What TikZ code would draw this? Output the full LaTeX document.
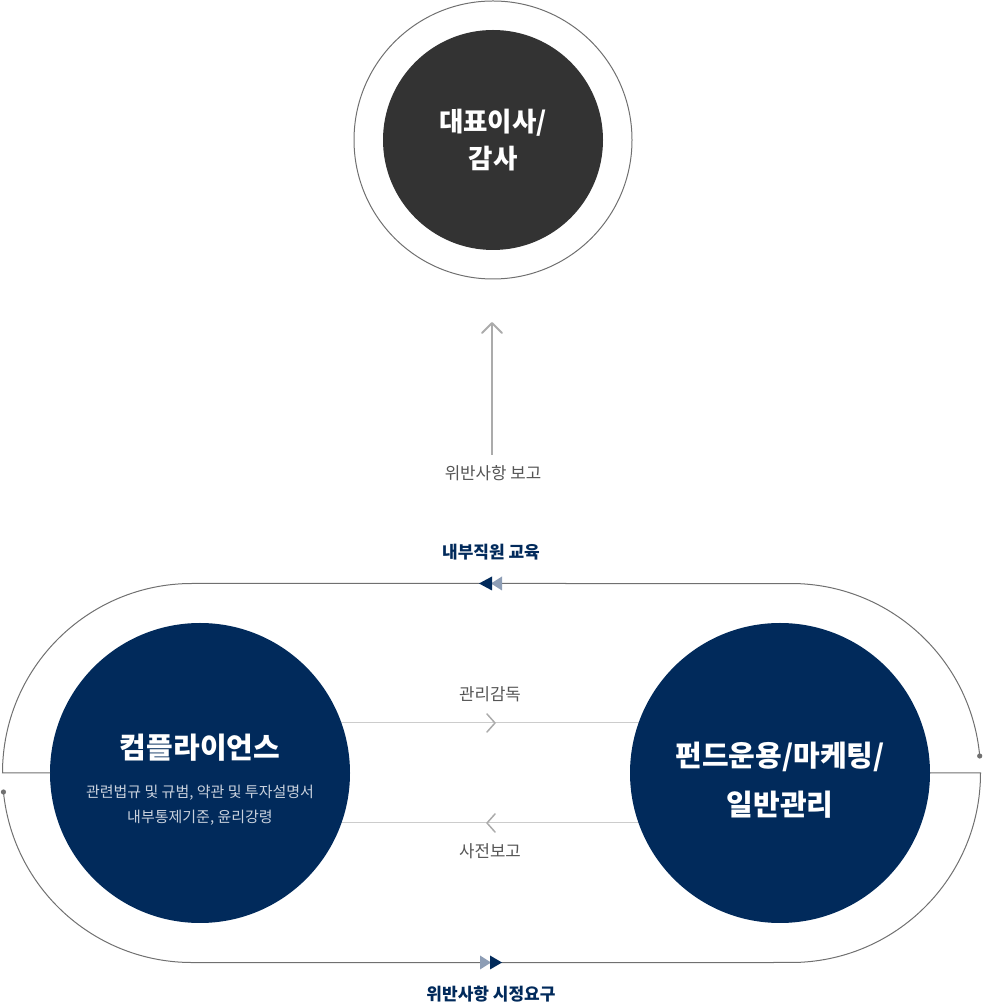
\documentclass[tikz,border=0pt]{standalone}
\usepackage{fontspec}
\usetikzlibrary{backgrounds}
\setmainfont{Noto Sans CJK KR}
\definecolor{navy}{HTML}{012A5B}
\definecolor{navylight}{HTML}{8D9DB5}
\definecolor{darkc}{HTML}{333333}
\definecolor{txtgray}{HTML}{555555}
\definecolor{linegray}{HTML}{707070}
\definecolor{arrgray}{HTML}{ABABAB}
\definecolor{thingray}{HTML}{CCCCCC}
\definecolor{subtxt}{HTML}{C9D1DD}
\begin{document}
\begin{tikzpicture}[x=1pt,y=1pt,
  circ/.style={circle,inner sep=0pt,outer sep=0pt,minimum size=#1},
  lbl/.style={font=\fontsize{16.8}{20}\selectfont,text=txtgray,inner sep=0pt},
  navylbl/.style={font=\fontsize{17}{20}\selectfont\bfseries,text=navy,inner sep=0pt},
  title/.style={font=\fontsize{29}{34}\selectfont\bfseries,text=white,inner sep=0pt},
  sub/.style={font=\fontsize{15}{18}\selectfont,text=subtxt,inner sep=0pt},
  loop/.style={draw=linegray,line width=1pt},
  chev/.style={draw=arrgray,line width=1.5pt,line cap=round,line join=round}]
\useasboundingbox (0,0) rectangle (983,1004);
% top
\node[circ=278pt,draw=linegray,line width=1pt] (outer) at (493,864) {};
\node[circ=220pt,fill=darkc,align=center,text=white,font=\fontsize{26.5}{37}\selectfont\bfseries] (ceo) at (493,864) {대표이사/\\감사};
\node[lbl] (report) at (493,531) {위반사항 보고};
\coordinate (arrS) at (492,549);
\coordinate (arrE) at (492,681);
\draw[draw=arrgray,line width=2pt] (arrS) -- (arrE);
\draw[chev,line width=2pt] (482,671) -- (arrE) -- (502,671);
% circles
\node[circ=300pt,fill=navy] (L) at (200,231) {};
\node[circ=300pt,fill=navy] (R) at (780,231) {};
\node[title] (Lt) at (200,256) {컴플라이언스};
\node[sub] (Ls1) at (200,211) {관련법규 및 규범, 약관 및 투자설명서};
\node[sub] (Ls2) at (200,186) {내부통제기준, 윤리강령};
\node[title] (Rt1) at (780,247) {펀드운용/마케팅/};
\node[title] (Rt2) at (780,199) {일반관리};
% middle connectors
\begin{scope}[on background layer]
\draw[draw=thingray,line width=1pt] ([yshift=50pt]L.center) -- ([yshift=50pt]R.center);
\draw[draw=thingray,line width=1pt] ([yshift=-50pt]L.center) -- ([yshift=-50pt]R.center);
\end{scope}
\draw[chev] (487,290) -- (495,281) -- (487,272);
\draw[chev] (495,190) -- (487,181) -- (495,172);
\node[lbl] (sup) at (490,310) {관리감독};
\node[lbl] (pre) at (490,153) {사전보고};
% loop
\coordinate (Rdot) at (979.7,248);
\coordinate (Ldot) at (3.45,212);
\draw[loop] (Rdot) arc[start angle=5.15,end angle=90,radius=189.5] -- (192,420.5) arc[start angle=90,end angle=180,radius=189.5] -- (L.west);
\draw[loop] (Ldot) arc[start angle=185.75,end angle=270,radius=189.5] -- (791,41.5) arc[start angle=270,end angle=360,radius=189.5] -- (R.east);
\fill[linegray] (Rdot) circle (2.6);
\fill[linegray] (Ldot) circle (2.6);
% triangles top
\fill[navylight] (491,420.5) -- (502,427.5) -- (502,413.5) -- cycle;
\fill[navy] (479,420.5) -- (492,427.5) -- (492,413.5) -- cycle;
% triangles bottom
\fill[navylight] (491,41.5) -- (480,48.5) -- (480,34.5) -- cycle;
\fill[navy] (502,41.5) -- (490,48.5) -- (490,34.5) -- cycle;
\node[navylbl] (edu) at (491,452) {내부직원 교육};
\node[navylbl] (fix) at (491,10) {위반사항 시정요구};
\end{tikzpicture}
\end{document}
